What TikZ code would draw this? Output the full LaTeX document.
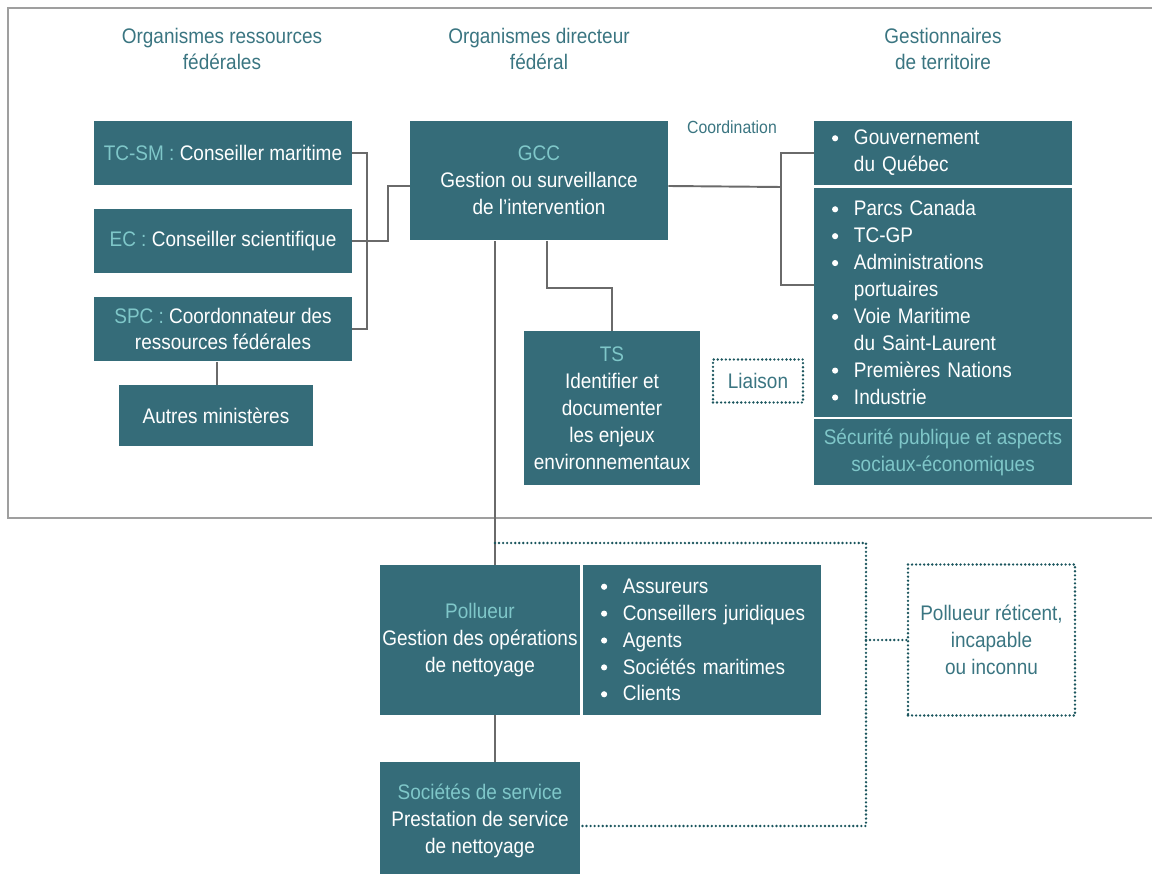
\documentclass[tikz,border=0pt]{standalone}
\usepackage{fontspec}
\setmainfont{Liberation Sans}[FakeStretch=0.9]
\definecolor{sarcelle}{HTML}{356C79}
\definecolor{clair}{HTML}{7FC7C9}
\definecolor{titre}{HTML}{3A7581}
\definecolor{trait}{HTML}{6A6A6A}
\definecolor{pointille}{HTML}{1A555D}
\newcommand{\itm}{\makebox[12.5pt][l]{\raisebox{0.32ex}{\tikz\fill[white] (0,0) circle (1.75pt);}}}
\newcommand{\suite}{\hspace*{12.5pt}}
\begin{document}
\begin{tikzpicture}[x=0.02cm,y=-0.02cm,
		boite/.style={fill=sarcelle,text=white,align=center,inner sep=0pt,font=\fontsize{12}{15.3}\selectfont},
		liste/.style={boite,align=left,inner xsep=0.36cm},
		entete/.style={text=titre,align=center,font=\fontsize{12}{15.3}\selectfont},
		cadre/.style={draw=pointille,line width=1.5pt,dash pattern=on 0pt off 2.3pt,line cap=round},
		lien/.style={draw=trait,line width=1.1pt}]
		\useasboundingbox (0,0) rectangle (1152,874);
		\draw[gray!75,line width=0.9pt] (1152,8) -- (8,8) -- (8,518) -- (1152,518);
		% en-tetes
		\node[entete] (titre1) at (222,49) {Organismes ressources\\fédérales};
		\node[entete] (titre2) at (539,49) {Organismes directeur\\fédéral};
		\node[entete] (titre3) at (943,49) {Gestionnaires\\de territoire};
		% ressources federales
		\node[boite,minimum width=5.16cm,minimum height=1.3cm] (tcsm) at (223,153) {\textcolor{clair}{TC-SM :} Conseiller maritime};
		\node[boite,minimum width=5.16cm,minimum height=1.3cm] (ec) at (223,241) {\textcolor{clair}{EC :} Conseiller scientifique};
		\node[boite,minimum width=5.16cm,minimum height=1.3cm] (spc) at (223,329) {\textcolor{clair}{SPC :} Coordonnateur des\\ressources fédérales};
		\node[boite,minimum width=3.88cm,minimum height=1.22cm] (autres) at (216,415.5) {Autres ministères};
		% directeur
		\node[boite,minimum width=5.16cm,minimum height=2.4cm] (gcc) at (539,180.5) {\textcolor{clair}{GCC}\\Gestion ou surveillance\\de l’intervention};
		\node[boite,minimum width=3.52cm,minimum height=3.08cm] (ts) at (612,408) {\textcolor{clair}{TS}\\Identifier et\\documenter\\les enjeux\\environnementaux};
		\node[cadre,text=titre,font=\fontsize{12}{15.3}\selectfont,minimum width=1.8cm,minimum height=0.86cm] (liaison) at (758,381) {Liaison};
		\node[text=titre,font=\fontsize{10}{12}\selectfont] (coordination) at (732,127) {Coordination};
		% territoire
		\node[liste,minimum width=5.16cm,minimum height=1.3cm,text width=4.44cm] (quebec) at (943,153) {\itm Gouvernement\\\suite du Québec};
		\node[liste,minimum width=5.16cm,minimum height=4.58cm,text width=4.44cm] (parcs) at (943,302.5) {\itm Parcs Canada\\\itm TC-GP\\\itm Administrations\\\suite portuaires\\\itm Voie Maritime\\\suite du Saint-Laurent\\\itm Premières Nations\\\itm Industrie};
		\node[boite,text=clair,minimum width=5.16cm,minimum height=1.32cm] (secu) at (943,452) {Sécurité publique et aspects\\sociaux-économiques};
		% pollueur
		\node[boite,minimum width=4cm,minimum height=3cm] (pollueur) at (480,640) {\textcolor{clair}{Pollueur}\\Gestion des opérations\\de nettoyage};
		\node[liste,minimum width=4.76cm,minimum height=3cm,text width=4.04cm] (agents) at (702,640) {\itm Assureurs\\\itm\mbox{Conseillers juridiques}\\\itm Agents\\\itm\mbox{Sociétés maritimes}\\\itm Clients};
		\node[boite,minimum width=4cm,minimum height=2.36cm] (societes) at (480,821) {\textcolor{clair}{Sociétés de service}\\Prestation de service\\de nettoyage};
		\node[cadre,text=titre,align=center,font=\fontsize{12}{15.3}\selectfont,minimum width=3.34cm,minimum height=3.02cm] (reticent) at (991.5,640) {Pollueur réticent,\\incapable\\ou inconnu};
		% liens
		\draw[lien] (tcsm.east) -- ++(15,0) |- (spc.east);
		\draw[lien] (ec.east) -- ++(36,0) |- ([yshift=-0.11cm]gcc.west);
		\draw[lien] ([xshift=-0.12cm]spc.south) -- ([xshift=-0.12cm]spc.south |- autres.north);
		\coordinate (fourche) at (781,187);
		\draw[lien] ([yshift=-0.11cm]gcc.east) -- (fourche);
		\draw[lien] (quebec.west) -| (fourche) |- ([yshift=0.35cm]parcs.west);
		\draw[lien] ([xshift=0.16cm]gcc.south) -- ++(0,47) -| (ts.north);
		\draw[lien] ([xshift=0.3cm]pollueur.north) -- ([xshift=0.3cm]pollueur.north |- gcc.south);
		\draw[lien] ([xshift=0.3cm]pollueur.south) -- ([xshift=0.3cm]societes.north);
		\coordinate (angle) at (866,543);
		\draw[cadre] ([xshift=0.3cm]pollueur.north |- angle) -- (angle) |- ([yshift=-0.1cm]societes.east);
		\draw[cadre] (angle |- reticent.west) -- (reticent.west);
	\end{tikzpicture}
\end{document}
